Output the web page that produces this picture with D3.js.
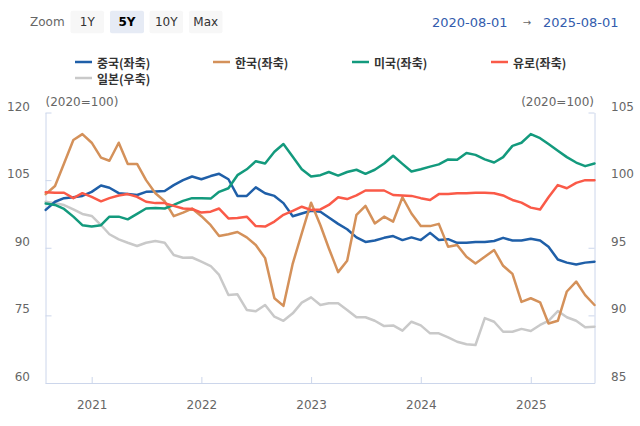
<!DOCTYPE html>
<html><head><meta charset="utf-8">
<script src="https://cdn.jsdelivr.net/npm/d3@7"></script>
<style>body{margin:0;background:#fff}svg{display:block}</style>
</head><body>
<svg id="c" width="640" height="426"></svg>
<script>
const months = [
"2020-08","2020-09","2020-10","2020-11","2020-12",
"2021-01","2021-02","2021-03","2021-04","2021-05","2021-06","2021-07","2021-08","2021-09","2021-10","2021-11","2021-12",
"2022-01","2022-02","2022-03","2022-04","2022-05","2022-06","2022-07","2022-08","2022-09","2022-10","2022-11","2022-12",
"2023-01","2023-02","2023-03","2023-04","2023-05","2023-06","2023-07","2023-08","2023-09","2023-10","2023-11","2023-12",
"2024-01","2024-02","2024-03","2024-04","2024-05","2024-06","2024-07","2024-08","2024-09","2024-10","2024-11","2024-12",
"2025-01","2025-02","2025-03","2025-04","2025-05","2025-06","2025-07","2025-08"];

const china = [98.4,100.2,101.0,101.2,101.5,102.4,103.8,103.3,102.1,101.9,101.7,102.4,102.5,
102.6,103.9,105.0,105.8,105.2,105.9,106.4,105.2,101.5,101.5,103.4,102.1,
101.5,99.9,97.0,97.6,98.2,98.0,96.7,95.3,94.1,92.3,91.3,91.6,
92.2,92.6,91.7,92.3,91.7,93.3,91.7,91.9,91.1,91.1,91.3,91.3,
91.5,92.2,91.6,91.6,92.0,91.6,90.2,87.4,86.7,86.3,86.7,86.9];

const korea = [101.9,103.7,108.7,113.9,115.2,113.3,110.0,109.3,113.3,108.6,108.6,105.0,102.1,
100.3,97.0,97.8,98.7,97.0,95.0,92.6,93.0,93.5,92.3,90.6,87.7,
78.8,77.1,86.5,93.2,100.0,95.0,89.9,84.6,87.1,97.3,99.3,95.4,
96.9,95.8,101.2,97.6,94.8,94.8,95.3,90.2,90.6,88.0,86.5,88.0,
89.5,86.0,84.2,78.0,78.8,77.9,73.2,73.8,80.3,82.5,79.5,77.3];

const usa = [99.8,99.5,98.6,96.9,95.0,94.7,95.0,96.9,96.9,96.3,97.5,98.7,98.8,
98.7,99.5,100.4,101.0,101.0,100.9,102.4,103.2,106.1,107.4,109.2,108.7,
111.3,113.0,110.2,107.4,105.8,106.1,106.8,106.0,106.8,107.3,106.4,107.3,
108.7,110.4,108.6,106.9,107.4,108.0,108.5,109.6,109.5,111.0,110.6,109.6,
108.9,110.1,112.6,113.3,115.2,114.3,113.0,111.5,110.1,108.9,108.1,108.7];

const euro = [102.3,102.2,102.2,101.0,102.1,101.3,100.3,101.0,101.6,101.9,101.3,100.2,99.9,
99.9,99.3,98.7,98.6,97.8,98.0,98.7,96.5,96.6,96.9,94.8,94.7,
95.8,97.3,98.2,99.1,98.4,98.5,99.5,101.2,100.8,101.6,102.7,102.7,
102.7,101.7,101.6,101.5,101.0,100.6,101.9,101.9,102.1,102.1,102.2,102.2,
102.1,101.6,100.6,100.0,98.9,98.5,101.2,103.9,103.2,104.4,105.0,105.0];

const japan = [98.4,98.3,98.16,97.84,97.5,97.35,96.68,96.0,95.62,95.37,95.13,95.37,95.5,
95.37,94.46,94.26,94.28,93.97,93.65,92.99,91.51,91.56,90.4,90.3,90.77,
89.9,89.6,90.15,90.94,91.33,90.77,90.89,90.89,90.4,89.86,89.86,89.6,
89.21,89.26,88.87,89.53,89.26,88.67,88.67,88.38,88.05,87.86,87.81,89.8,
89.53,88.79,88.79,89.0,88.84,89.29,89.6,90.32,89.86,89.6,89.12,89.16];

const seriesNames = ["중국(좌축)","한국(좌축)","미국(좌축)","유로(좌축)","일본(우축)"];
const leftTicks = [60,75,90,105,120];
const rightTicks = [85,90,95,100,105];
const yearTicks = ["2021","2022","2023","2024","2025"];
const zoomButtons = ["1Y","5Y","10Y","Max"];
const rangeFrom = "2020-08-01", rangeTo = "2025-08-01";
const unitLabel = "(2020=100)";

const colors = ["#1f5fa8","#d4915a","#139a7d","#fa5a48","#c9c9c9"];
const FONT = "'DejaVu Sans', Verdana, sans-serif";
const KFONT = "'Noto Sans CJK KR','DejaVu Sans',sans-serif";

const svg = d3.select("#c");
svg.append("rect").attr("width",640).attr("height",426).attr("fill","#fff");

const parse = d3.timeParse("%Y-%m");
const dates = months.map(parse);
const x = d3.scaleTime().domain([d3.timeParse("%Y-%m-%d")(rangeFrom), d3.timeParse("%Y-%m-%d")(rangeTo)]).range([45.7, 594.5]);
const yL = d3.scaleLinear().domain([60,120]).range([383,112.5]);
const yR = d3.scaleLinear().domain([85,105]).range([383,112.5]);

// top bar
svg.append("text").attr("x",30).attr("y",22).attr("dominant-baseline","central")
  .attr("font-family",FONT).attr("font-size",12).attr("fill","#666").text("Zoom");
const btnX = [70.5,110,149.5,189];
const btnW = [33.5,34,33.5,33.5];
zoomButtons.forEach((b,i)=>{
  const sel = b==="5Y";
  svg.append("rect").attr("x",btnX[i]).attr("y",10.7).attr("width",btnW[i]).attr("height",22.6)
    .attr("rx",2).attr("fill", sel?"#e6ebf5":"#f7f7f7");
  svg.append("text").attr("x",btnX[i]+btnW[i]/2).attr("y",22).attr("text-anchor","middle")
    .attr("dominant-baseline","central").attr("font-family",FONT).attr("font-size",12)
    .attr("font-weight", sel?"bold":"normal").attr("fill", sel?"#000":"#333").text(b);
});
svg.append("text").attr("x",432).attr("y",22).attr("dominant-baseline","central")
  .attr("font-family",FONT).attr("font-size",13).attr("fill","#335cad").text(rangeFrom);
svg.append("text").attr("x",527).attr("y",22).attr("text-anchor","middle").attr("dominant-baseline","central")
  .attr("font-family",FONT).attr("font-size",10).attr("fill","#666").text("→");
svg.append("text").attr("x",543).attr("y",22).attr("dominant-baseline","central")
  .attr("font-family",FONT).attr("font-size",13).attr("fill","#335cad").text(rangeTo);

// legend
const legPos = [[75,62],[213,62],[352,62],[491,62],[75,78]];
seriesNames.forEach((n,i)=>{
  const [lx,ly] = legPos[i];
  svg.append("line").attr("x1",lx).attr("x2",lx+17).attr("y1",ly).attr("y2",ly)
    .attr("stroke",colors[i]).attr("stroke-width",2.5);
  svg.append("text").attr("x",lx+22).attr("y",ly).attr("dominant-baseline","central")
    .attr("font-family",KFONT).attr("font-size",12).attr("font-weight","bold").attr("fill","#333").text(n);
});

// axes
const axisColor = "#ccd6eb";
const gx = svg.append("g").attr("transform","translate(0,383)")
  .call(d3.axisBottom(x).tickValues(yearTicks.map(d=>d3.timeParse("%Y")(d))).tickSizeInner(-6).tickSizeOuter(0).tickFormat(d3.timeFormat("%Y")).tickPadding(0));
gx.select(".domain").attr("stroke",axisColor);
gx.selectAll(".tick line").attr("stroke",axisColor);
gx.selectAll(".tick text").attr("y",26).attr("dy",0).attr("font-family",FONT).attr("font-size",12).attr("fill","#666");

const gl = svg.append("g").attr("transform","translate(45.5,0)")
  .call(d3.axisLeft(yL).tickValues(leftTicks).tickSizeInner(-6).tickSizeOuter(0).tickPadding(0));
gl.select(".domain").attr("stroke",axisColor);
gl.selectAll(".tick line").attr("stroke",axisColor);
gl.selectAll(".tick text").attr("x",-15.5).attr("dy",0).attr("y",-2.5).attr("text-anchor","end")
  .attr("font-family",FONT).attr("font-size",12).attr("fill","#666");

const gr = svg.append("g").attr("transform","translate(594.5,0)")
  .call(d3.axisRight(yR).tickValues(rightTicks).tickSizeInner(-6).tickSizeOuter(0).tickPadding(0));
gr.select(".domain").attr("stroke",axisColor);
gr.selectAll(".tick line").attr("stroke",axisColor);
gr.selectAll(".tick text").attr("x",16.5).attr("dy",0).attr("y",-2.5).attr("text-anchor","start")
  .attr("font-family",FONT).attr("font-size",12).attr("fill","#666");

svg.append("text").attr("x",45.5).attr("y",106).attr("font-family",FONT).attr("font-size",12).attr("fill","#666").text(unitLabel);
svg.append("text").attr("x",594).attr("y",106).attr("text-anchor","end").attr("font-family",FONT).attr("font-size",12).attr("fill","#666").text(unitLabel);

// lines
const left = [china,korea,usa,euro];
const lineL = d3.line().x((d,i)=>x(dates[i])).y(d=>yL(d));
const lineR = d3.line().x((d,i)=>x(dates[i])).y(d=>yR(d));
const g = svg.append("g");
g.append("path").attr("d",lineR(japan)).attr("fill","none").attr("stroke",colors[4])
  .attr("stroke-width",2.5).attr("stroke-linejoin","round").attr("stroke-linecap","round");
left.forEach((s,k)=>{
  g.append("path").attr("d",lineL(s)).attr("fill","none").attr("stroke",colors[k])
    .attr("stroke-width",2.5).attr("stroke-linejoin","round").attr("stroke-linecap","round");
});
</script>
</body></html>
